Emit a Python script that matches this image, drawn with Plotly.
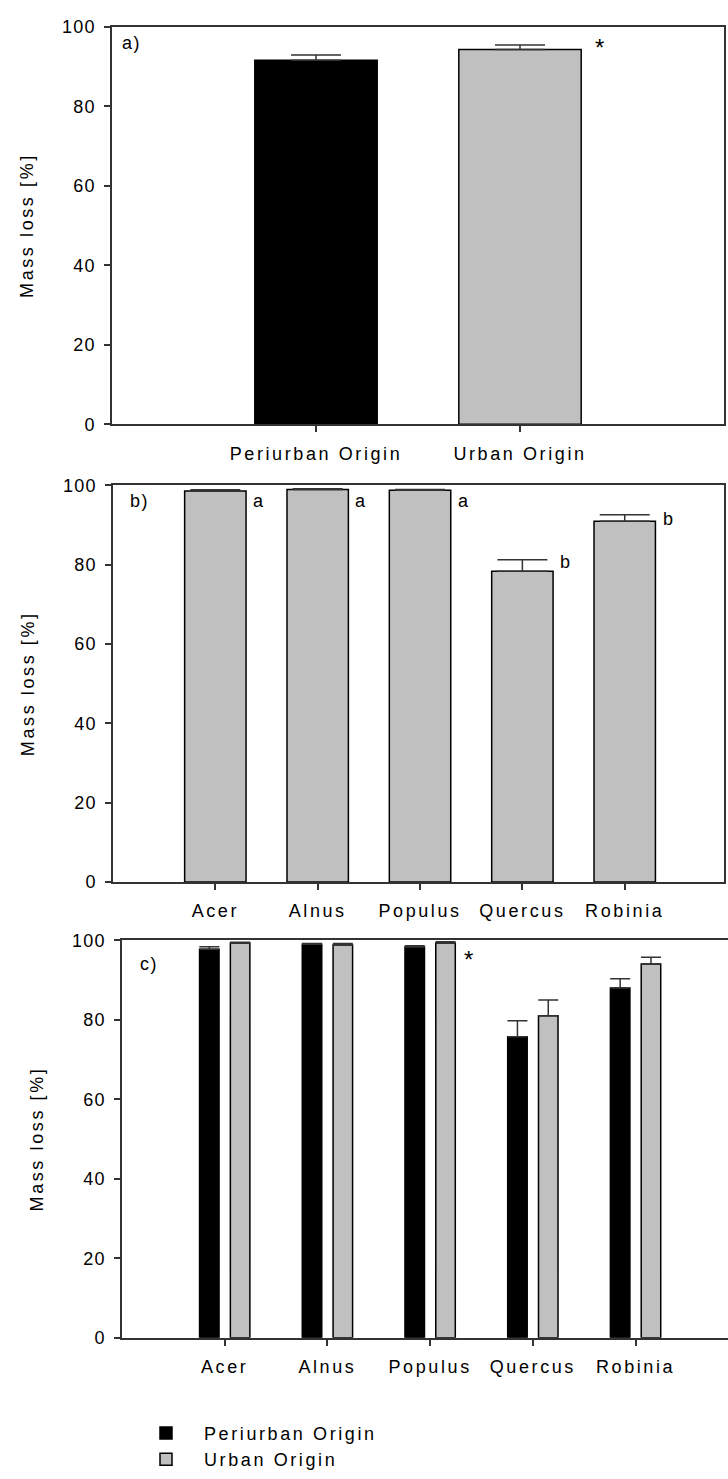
import plotly.graph_objects as go

# ---------------- data ----------------
origins = ["Periurban Origin", "Urban Origin"]
origin_mean = [91.6, 94.3]
origin_err = [1.3, 1.1]

genera = ["Acer", "Alnus", "Populus", "Quercus", "Robinia"]
genus_mean = [98.6, 99.0, 98.8, 78.4, 91.0]
genus_err = [0.3, 0.2, 0.2, 2.9, 1.6]
genus_letters = ["a", "a", "a", "b", "b"]
genus_letter_y = [96.0, 96.0, 96.0, 80.8, 91.5]

peri_mean = [97.75, 99.0, 98.3, 75.75, 88.0]
peri_err = [0.6, 0.2, 0.3, 4.0, 2.3]
urban_mean = [99.3, 98.8, 99.3, 81.0, 94.0]
urban_err = [0.2, 0.4, 0.3, 4.0, 1.7]

y_ticks = [0, 20, 40, 60, 80, 100]
y_title = "Mass loss [%]"

# ---------------- style ----------------
W, H = 728, 1479
FONT = "Liberation Sans, Arial, sans-serif"
FS = 18
LS = 2.6  # letter spacing of the original SigmaPlot text
BLACK = "#000000"
GREY = "#c0c0c0"
LINE = "#333333"


def spaced(t, ls=LS):
    return '<span style="letter-spacing:%.1fpx">%s</span>' % (ls, t)


def px_x(p):
    return p / W


def px_y(p):
    return 1 - p / H


fig = go.Figure()

# panel a
fig.add_trace(go.Bar(
    x=origins, y=origin_mean, width=0.6,
    marker=dict(color=[BLACK, GREY], line=dict(color=BLACK, width=1.5)),
    error_y=dict(type="data", array=origin_err, arrayminus=[0, 0], symmetric=False,
                 color=LINE, thickness=1.5, width=25),
    xaxis="x", yaxis="y", showlegend=False, hoverinfo="skip"))

# panel b
fig.add_trace(go.Bar(
    x=genera, y=genus_mean, width=0.6,
    marker=dict(color=GREY, line=dict(color=BLACK, width=1.5)),
    error_y=dict(type="data", array=genus_err, arrayminus=[0] * 5, symmetric=False,
                 color=LINE, thickness=1.5, width=25),
    xaxis="x2", yaxis="y2", showlegend=False, hoverinfo="skip"))

# panel c
fig.add_trace(go.Bar(
    x=genera, y=peri_mean, width=0.19, offset=-0.245, name=spaced(origins[0]),
    marker=dict(color=BLACK, line=dict(color=BLACK, width=1.5)),
    error_y=dict(type="data", array=peri_err, arrayminus=[0] * 5, symmetric=False,
                 color=LINE, thickness=1.5, width=10),
    xaxis="x3", yaxis="y3", showlegend=True, hoverinfo="skip"))
fig.add_trace(go.Bar(
    x=genera, y=urban_mean, width=0.19, offset=0.055, name=spaced(origins[1]),
    marker=dict(color=GREY, line=dict(color=BLACK, width=1.5)),
    error_y=dict(type="data", array=urban_err, arrayminus=[0] * 5, symmetric=False,
                 color=LINE, thickness=1.5, width=10),
    xaxis="x3", yaxis="y3", showlegend=True, hoverinfo="skip"))

tickfont = dict(family=FONT, size=FS, color=BLACK)


def xax(domain, rng, cats, anchor, mirror=True):
    return dict(domain=domain, range=rng, type="category", categoryorder="array",
                categoryarray=cats, tickvals=cats, ticktext=[spaced(c) for c in cats],
                showline=True, linecolor=LINE, linewidth=1.5, anchor=anchor,
                mirror=mirror, ticks="outside", ticklen=6, tickcolor=LINE, tickwidth=1.5,
                tickfont=tickfont, showgrid=False, zeroline=False, fixedrange=True,
                ticklabelstandoff=6)


def yax(domain, anchor, mirror=True):
    return dict(domain=domain, range=[0, 100], tickvals=y_ticks,
                ticktext=[spaced(str(v), 1.2) for v in y_ticks], showline=True,
                linecolor=LINE, linewidth=1.5, mirror=mirror, ticks="outside",
                ticklen=6, tickcolor=LINE, tickwidth=1.5, tickfont=tickfont,
                showgrid=False, zeroline=False, anchor=anchor, fixedrange=True,
                ticklabelstandoff=5,
                title=dict(text=spaced(y_title), font=dict(family=FONT, size=FS, color=BLACK),
                           standoff=24))


layout = dict(
    width=W, height=H, margin=dict(l=0, r=0, t=0, b=0),
    paper_bgcolor="white", plot_bgcolor="white", barmode="overlay",
    font=dict(family=FONT, size=FS, color=BLACK),
    xaxis=xax([px_x(112), px_x(724)], [-1, 2], origins, "y"),
    yaxis=yax([px_y(420), px_y(17)], "x"),
    xaxis2=xax([px_x(113), px_x(724)], [-1, 4.97], genera, "y2"),
    yaxis2=yax([px_y(884), px_y(482)], "x2"),
    xaxis3=xax([px_x(122), 1.0], [-1, 4.9], genera, "y3"),
    yaxis3=yax([px_y(1346), px_y(943)], "x3", mirror=False),
    legend=dict(x=px_x(128), y=px_y(1424), xanchor="left", yanchor="top",
                font=dict(family=FONT, size=FS, color=BLACK), itemwidth=66,
                bgcolor="rgba(0,0,0,0)", tracegroupgap=0),
)
fig.update_layout(**layout)

ann = []
afont = dict(family=FONT, size=FS, color=BLACK)
starfont = dict(family=FONT, size=24, color=BLACK)
ann.append(dict(text=spaced("a)", 1.5), x=-0.96, y=95.8, xref="x", yref="y", xanchor="left",
                yanchor="middle", showarrow=False, font=afont))
ann.append(dict(text="*", x=1.39, y=94.8, xref="x", yref="y", xanchor="center",
                yanchor="middle", showarrow=False, font=starfont))
ann.append(dict(text=spaced("b)", 1.5), x=-0.853, y=96.0, xref="x2", yref="y2", xanchor="left",
                yanchor="middle", showarrow=False, font=afont))
for i, (lab, ly) in enumerate(zip(genus_letters, genus_letter_y)):
    ann.append(dict(text=lab, x=i + 0.42, y=ly, xref="x2", yref="y2", xanchor="center",
                    yanchor="middle", showarrow=False, font=afont))
ann.append(dict(text=spaced("c)", 1.5), x=-0.844, y=94.0, xref="x3", yref="y3", xanchor="left",
                yanchor="middle", showarrow=False, font=afont))
ann.append(dict(text="*", x=2.37, y=95.2, xref="x3", yref="y3", xanchor="center",
                yanchor="middle", showarrow=False, font=starfont))
fig.update_layout(annotations=ann)

fig.write_html("out.html")
